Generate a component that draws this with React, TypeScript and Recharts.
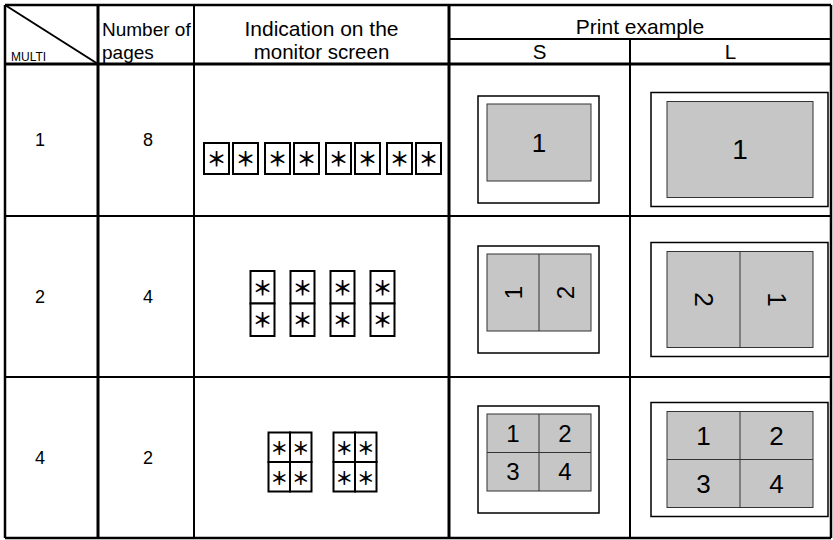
import React from 'react';
import { ComposedChart, Bar, XAxis, YAxis, Customized } from 'recharts';

// table content
const multiValues = [1, 2, 4];
const pageCounts = [8, 4, 2];
const sheetOrderS = [[1], [1, 2], [1, 2, 3, 4]];
const sheetOrderL = [[1], [2, 1], [1, 2, 3, 4]];
const cornerLabel = 'MULTI';
const pagesHeader = ['Number of', 'pages'];
const screenHeader = ['Indication on the', 'monitor screen'];
const printHeader = 'Print example';
const printSizes = ['S', 'L'];
const screenMark = '＊';

const rows = multiValues.map((multi, i) => ({
  multi,
  pages: pageCounts[i],
  s: sheetOrderS[i],
  l: sheetOrderL[i],
}));

// layout
const W = 833;
const H = 540;
const COL = [5, 98, 194, 449, 630, 831];
const TOP = 5;
const HEAD_MID = 39;
const HEAD_BOTTOM = 64;
const BOTTOM = 538;
const BAND_TOP = 55;
const FONT = '"Liberation Sans", Arial, sans-serif';
const MARK_FONT = '"Noto Sans CJK JP", "DejaVu Sans", sans-serif';
const LABEL_NUDGE = [4, 0, 0];
const SCREEN_NUDGE = [23, 7, 4.5];
const SHEET_NUDGE = [14, 3, 2];
const GRAY = '#c6c6c6';

const SCREEN: Record<number, { gc: number; gr: number; w: number; h: number; fs: number; step: (g: number) => number }> = {
  1: { gc: 1, gr: 1, w: 25, h: 31, fs: 20, step: (g) => Math.floor(g / 2) * 61 + (g % 2) * 29 },
  2: { gc: 1, gr: 2, w: 24, h: 32.5, fs: 20, step: (g) => g * 40 },
  4: { gc: 2, gr: 2, w: 21.5, h: 29.5, fs: 18, step: (g) => g * 65 },
};

const TURN_S: Record<number, number> = { 1: 0, 2: -90, 4: 0 };
const TURN_L: Record<number, number> = { 1: 0, 2: 90, 4: 0 };

function ScreenPages({ multi, pages, cx, cy }: { multi: number; pages: number; cx: number; cy: number }) {
  const s = SCREEN[multi];
  const totalW = s.step(pages - 1) + s.gc * s.w;
  const totalH = s.gr * s.h;
  const x0 = cx - totalW / 2;
  const y0 = cy - totalH / 2;
  const cells: React.ReactNode[] = [];
  for (let g = 0; g < pages; g++) {
    for (let r = 0; r < s.gr; r++) {
      for (let c = 0; c < s.gc; c++) {
        const x = x0 + s.step(g) + c * s.w;
        const y = y0 + r * s.h;
        cells.push(
          <g key={`${g}-${r}-${c}`}>
            <rect x={x} y={y} width={s.w} height={s.h} fill="#fff" stroke="#000" strokeWidth={2} />
            <text
              x={x + s.w / 2}
              y={y + s.h / 2}
              textAnchor="middle"
              dominantBaseline="central"
              fontFamily={MARK_FONT}
              fontWeight={700}
              fontSize={s.fs}
              fill="#000"
            >
              {screenMark}
            </text>
          </g>
        );
      }
    }
  }
  return <g>{cells}</g>;
}

function Sheet({ order, cx, cy, big, turn }: { order: number[]; cx: number; cy: number; big: boolean; turn: number }) {
  const fw = big ? 177 : 121;
  const fh = big ? 114 : 107;
  const gx = big ? 16 : 9;
  const gy = big ? 9 : 8;
  const gw = big ? 146 : 104;
  const gh = big ? 96 : 77;
  const fx = cx - fw / 2;
  const fy = cy - fh / 2;
  const px = fx + gx;
  const py = fy + gy;
  const n = order.length;
  const cols = n === 1 ? 1 : 2;
  const rws = n === 4 ? 2 : 1;
  const cw = gw / cols;
  const ch = gh / rws;
  const fs = n === 1 ? (big ? 28 : 26) : big ? 26 : 24;
  return (
    <g>
      <rect x={fx} y={fy} width={fw} height={fh} fill="#fff" stroke="#000" strokeWidth={1.5} />
      <rect x={px} y={py} width={gw} height={gh} fill={GRAY} stroke="#333" strokeWidth={1} />
      {cols === 2 && <line x1={px + cw} x2={px + cw} y1={py} y2={py + gh} stroke="#333" strokeWidth={1} />}
      {rws === 2 && <line x1={px} x2={px + gw} y1={py + ch} y2={py + ch} stroke="#333" strokeWidth={1} />}
      {order.map((p, i) => {
        const tx = px + (i % cols) * cw + cw / 2;
        const ty = py + Math.floor(i / cols) * ch + ch / 2;
        return (
          <text
            key={i}
            x={tx}
            y={ty}
            textAnchor="middle"
            dominantBaseline="central"
            fontFamily={FONT}
            fontSize={fs}
            fill="#000"
            transform={turn ? `rotate(${turn} ${tx} ${ty})` : undefined}
          >
            {p}
          </text>
        );
      })}
    </g>
  );
}

const renderRow = (props: any) => {
  const { y, height, payload, index } = props;
  const cy = y + height / 2;
  const lineY = Math.round(y + height);
  return (
    <g>
      {index < rows.length - 1 && (
        <line x1={COL[0]} x2={COL[5]} y1={lineY} y2={lineY} stroke="#000" strokeWidth={2} />
      )}
      <text x={40} y={cy + LABEL_NUDGE[index]} textAnchor="middle" dominantBaseline="central" fontFamily={FONT} fontSize={18} fill="#000">
        {payload.multi}
      </text>
      <text x={148} y={cy + LABEL_NUDGE[index]} textAnchor="middle" dominantBaseline="central" fontFamily={FONT} fontSize={18} fill="#000">
        {payload.pages}
      </text>
      <ScreenPages multi={payload.multi} pages={payload.pages} cx={(COL[2] + COL[3]) / 2 + 1} cy={cy + SCREEN_NUDGE[index]} />
      <Sheet order={payload.s} cx={(COL[3] + COL[4]) / 2 - 1} cy={cy + SHEET_NUDGE[index]} big={false} turn={TURN_S[payload.multi]} />
      <Sheet order={payload.l} cx={(COL[4] + COL[5]) / 2 + 9} cy={cy + SHEET_NUDGE[index]} big turn={TURN_L[payload.multi]} />
    </g>
  );
};

const HeaderLayer = () => (
  <g fontFamily={FONT} fill="#000">
    <line x1={COL[0]} y1={TOP} x2={COL[1]} y2={HEAD_BOTTOM} stroke="#000" strokeWidth={2} />
    <line x1={COL[0]} x2={COL[5]} y1={TOP} y2={TOP} stroke="#000" strokeWidth={2.5} />
    <line x1={COL[3]} x2={COL[5]} y1={HEAD_MID} y2={HEAD_MID} stroke="#000" strokeWidth={2} />
    <line x1={COL[0]} x2={COL[5]} y1={HEAD_BOTTOM} y2={HEAD_BOTTOM} stroke="#000" strokeWidth={3} />
    <line x1={COL[0]} x2={COL[5]} y1={BOTTOM} y2={BOTTOM} stroke="#000" strokeWidth={2.5} />
    <line x1={COL[0]} x2={COL[0]} y1={TOP} y2={BOTTOM} stroke="#000" strokeWidth={2.5} />
    <line x1={COL[1]} x2={COL[1]} y1={TOP} y2={BOTTOM} stroke="#000" strokeWidth={3} />
    <line x1={COL[2]} x2={COL[2]} y1={TOP} y2={BOTTOM} stroke="#000" strokeWidth={2} />
    <line x1={COL[3]} x2={COL[3]} y1={TOP} y2={BOTTOM} stroke="#000" strokeWidth={3} />
    <line x1={COL[4]} x2={COL[4]} y1={HEAD_MID} y2={BOTTOM} stroke="#000" strokeWidth={2} />
    <line x1={COL[5]} x2={COL[5]} y1={TOP} y2={BOTTOM} stroke="#000" strokeWidth={2.5} />

    <text x={11} y={61} fontSize={12}>{cornerLabel}</text>
    <text x={102} y={36} fontSize={19}>{pagesHeader[0]}</text>
    <text x={102} y={59} fontSize={19}>{pagesHeader[1]}</text>
    <text x={(COL[2] + COL[3]) / 2} y={36} fontSize={21} textAnchor="middle">{screenHeader[0]}</text>
    <text x={(COL[2] + COL[3]) / 2} y={59} fontSize={20.5} textAnchor="middle">{screenHeader[1]}</text>
    <text x={(COL[3] + COL[5]) / 2} y={34} fontSize={21} textAnchor="middle">{printHeader}</text>
    <text x={(COL[3] + COL[4]) / 2} y={59} fontSize={20.5} textAnchor="middle">{printSizes[0]}</text>
    <text x={(COL[4] + COL[5]) / 2} y={59} fontSize={20.5} textAnchor="middle">{printSizes[1]}</text>
  </g>
);

export default function App() {
  return (
    <div style={{ position: 'absolute', left: 0, top: 0, width: W, height: H, background: '#fff' }}>
      <ComposedChart
        width={W}
        height={H}
        data={rows}
        layout="vertical"
        barCategoryGap={0}
        margin={{ top: BAND_TOP, right: W - COL[5], bottom: H - BOTTOM, left: COL[0] }}
      >
        <XAxis type="number" hide />
        <YAxis type="category" dataKey="multi" hide />
        <Bar dataKey="pages" shape={renderRow} isAnimationActive={false} />
        <Customized component={HeaderLayer} />
      </ComposedChart>
    </div>
  );
}
